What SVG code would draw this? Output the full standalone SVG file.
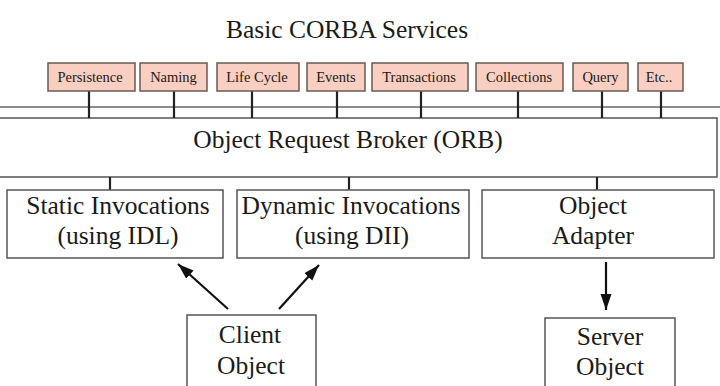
<svg xmlns="http://www.w3.org/2000/svg" width="720" height="386" viewBox="0 0 720 386">
<style>
.t{font-family:"Liberation Serif","Times New Roman",serif;fill:#1a1a1a;text-anchor:middle}
.big{font-size:25.5px}
.svc{font-size:14.5px}
.svcbox{fill:#f8cfc0;stroke:#6a5a55;stroke-width:1.5}
.box{fill:#fff;stroke:#555;stroke-width:1.5}
.bus{stroke:#666;stroke-width:1.5;fill:none}
.stub{stroke:#222;stroke-width:2.2}
.arr{stroke:#111;stroke-width:2.2;fill:none;marker-end:url(#ah)}
</style>
<defs>
<marker id="ah" markerWidth="17" markerHeight="12" refX="16" refY="6" orient="auto" markerUnits="userSpaceOnUse">
<path d="M0,0.5 L16,6 L0,11.5 z" fill="#111"/>
</marker>
</defs>
<rect width="720" height="386" fill="#fff"/>
<text class="t big" x="347" y="38">Basic CORBA Services</text>
<g id="orb">
<rect class="box" x="-2" y="118" width="719" height="59"/>
<text class="t big" x="348" y="148">Object Request Broker (ORB)</text>
</g>
<g id="connectors">
<line class="bus" x1="0" y1="107" x2="720" y2="107"/>
<line class="stub" x1="89" y1="91" x2="89" y2="118"/>
<line class="stub" x1="174" y1="91" x2="174" y2="118"/>
<line class="stub" x1="252" y1="91" x2="252" y2="118"/>
<line class="stub" x1="337" y1="91" x2="337" y2="118"/>
<line class="stub" x1="421" y1="91" x2="421" y2="118"/>
<line class="stub" x1="518" y1="91" x2="518" y2="118"/>
<line class="stub" x1="602" y1="91" x2="602" y2="118"/>
<line class="stub" x1="661" y1="91" x2="661" y2="118"/>
<line class="stub" x1="110" y1="177" x2="110" y2="190"/>
<line class="stub" x1="349" y1="177" x2="349" y2="190"/>
<line class="stub" x1="597" y1="177" x2="597" y2="190"/>
<line class="arr" x1="228" y1="309" x2="178" y2="264"/>
<line class="arr" x1="279" y1="309" x2="319" y2="265"/>
<line class="arr" x1="606" y1="262" x2="606" y2="310"/>
</g>
<g id="persistence"><rect class="svcbox" x="48" y="63" width="87" height="28"/><text class="t svc" x="90" y="82">Persistence</text></g>
<g id="naming"><rect class="svcbox" x="140" y="63" width="67" height="28"/><text class="t svc" x="173.5" y="82">Naming</text></g>
<g id="lifecycle"><rect class="svcbox" x="217" y="63" width="82" height="28"/><text class="t svc" x="257" y="82">Life Cycle</text></g>
<g id="events"><rect class="svcbox" x="307" y="63" width="58" height="28"/><text class="t svc" x="336" y="82">Events</text></g>
<g id="transactions"><rect class="svcbox" x="372" y="63" width="96" height="28"/><text class="t svc" x="419" y="82">Transactions</text></g>
<g id="collections"><rect class="svcbox" x="476" y="63" width="87" height="28"/><text class="t svc" x="519" y="82">Collections</text></g>
<g id="query"><rect class="svcbox" x="573" y="63" width="55" height="28"/><text class="t svc" x="600.5" y="82">Query</text></g>
<g id="etc"><rect class="svcbox" x="638" y="63" width="45" height="28"/><text class="t svc" x="659" y="82">Etc..</text></g>
<g id="static"><rect class="box" x="7" y="190" width="216" height="68"/><text class="t big" x="118" y="214">Static Invocations</text><text class="t big" x="118" y="244">(using IDL)</text></g>
<g id="dynamic"><rect class="box" x="237" y="190" width="232" height="68"/><text class="t big" x="351" y="214">Dynamic Invocations</text><text class="t big" x="352" y="244">(using DII)</text></g>
<g id="adapter"><rect class="box" x="482" y="190" width="232" height="68"/><text class="t big" x="593" y="214">Object</text><text class="t big" x="593" y="244">Adapter</text></g>
<g id="client"><rect class="box" x="187" y="315" width="129" height="80"/><text class="t big" x="250" y="343">Client</text><text class="t big" x="251" y="374">Object</text></g>
<g id="server"><rect class="box" x="545" y="318" width="130" height="80"/><text class="t big" x="610" y="345">Server</text><text class="t big" x="610" y="375">Object</text></g>
</svg>
